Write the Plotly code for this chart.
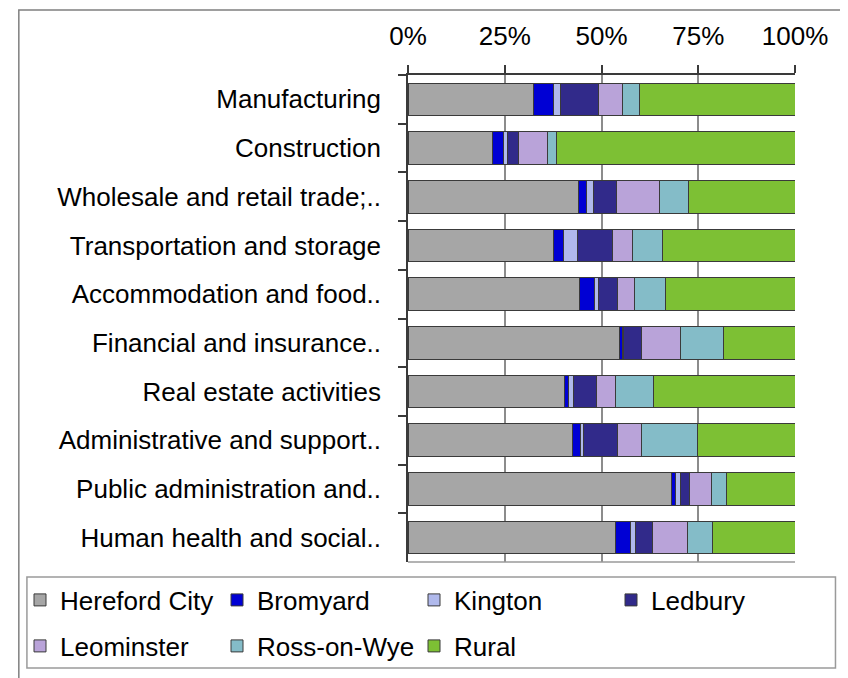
import plotly.graph_objects as go

categories = [
    "Manufacturing",
    "Construction",
    "Wholesale and retail trade;..",
    "Transportation and storage",
    "Accommodation and food..",
    "Financial and insurance..",
    "Real estate activities",
    "Administrative and support..",
    "Public administration and..",
    "Human health and social..",
]

hereford_city = [32.4, 21.9, 44.1, 37.7, 44.4, 54.6, 40.5, 42.6, 68.0, 53.6]
bromyard      = [5.3, 2.8, 2.1, 2.6, 3.9, 0.8, 1.1, 1.9, 1.2, 3.9]
kington       = [1.8, 1.1, 1.7, 3.6, 0.9, 0.2, 1.2, 0.9, 1.2, 1.3]
ledbury       = [9.7, 2.8, 6.1, 8.9, 4.9, 4.8, 5.8, 8.7, 2.4, 4.3]
leominster    = [6.1, 7.4, 11.0, 5.2, 4.4, 10.0, 5.0, 6.2, 5.5, 9.0]
ross_on_wye   = [4.4, 2.4, 7.6, 7.7, 8.0, 11.2, 9.8, 14.4, 3.9, 6.5]
rural         = [40.3, 61.6, 27.4, 34.3, 33.5, 18.4, 36.6, 25.3, 17.8, 21.4]

series_names = ["Hereford City", "Bromyard", "Kington", "Ledbury",
                "Leominster", "Ross-on-Wye", "Rural"]
series_values = [hereford_city, bromyard, kington, ledbury,
                 leominster, ross_on_wye, rural]
series_colors = ["#A6A6A6", "#0000D4", "#B0B9EC", "#312A8A",
                 "#B9A3D9", "#84BCC8", "#7DC034"]
series_legend = ["legend", "legend", "legend", "legend",
                 "legend2", "legend2", "legend2"]

x_ticks = [0, 25, 50, 75, 100]
x_ticktext = ["0%", "25%", "50%", "75%", "100%"]

FONT = "Liberation Sans, Arial, sans-serif"
FS = 26

fig = go.Figure()
for name, vals, col, lg in zip(series_names, series_values, series_colors, series_legend):
    fig.add_trace(go.Bar(
        name=name, x=vals, y=categories, orientation="h",
        marker=dict(color=col, line=dict(color="#3A3A3A", width=1)),
        legend=lg,
    ))

# The page body has an 8px margin, so screen px = figure px + 8.
OFF = 8
W, H = 848, 678
# plot area in screen pixels
SL, SR, ST, SB = 403, 795, 75, 562
L, R, T, B = SL - OFF, SR - OFF, ST - OFF, SB - OFF

def px(x):  # screen x -> paper x
    return (x - SL) / (SR - SL)
def py(y):  # screen y -> paper y
    return (SB - y) / (SB - ST)

legend_common = dict(
    orientation="h", xanchor="left", yanchor="middle",
    traceorder="normal",
    entrywidth=152, entrywidthmode="pixels",
    font=dict(family=FONT, size=FS), bgcolor="rgba(0,0,0,0)",
    borderwidth=0,
)

fig.update_layout(
    width=W, height=H,
    margin=dict(l=L, r=W - R, t=T, b=H - B, pad=0),
    paper_bgcolor="white", plot_bgcolor="white",
    barmode="stack", bargap=0.33,
    font=dict(family=FONT, size=FS, color="#000000"),
    showlegend=True,
    legend=dict(x=px(10), y=py(600), **legend_common),
    legend2=dict(x=px(10), y=py(646), **legend_common),
    xaxis=dict(
        side="top", range=[0, 100], tickvals=x_ticks, ticktext=x_ticktext,
        showgrid=True, gridcolor="#8C8C8C", gridwidth=1.5,
        showline=True, linecolor="#3A3A3A", linewidth=1.5,
        ticks="outside", ticklen=8, tickcolor="#3A3A3A", tickwidth=1.5,
        zeroline=False, automargin=False, fixedrange=True,
        tickfont=dict(family=FONT, size=FS),
        ticklabelstandoff=10,
    ),
    yaxis=dict(
        type="category", autorange="reversed",
        showline=True, linecolor="#3A3A3A", linewidth=1.5,
        ticks="outside", tickson="boundaries", ticklen=8,
        tickcolor="#3A3A3A", tickwidth=1.5,
        showgrid=False, zeroline=False, automargin=False,
        tickfont=dict(family=FONT, size=FS),
        ticklabelstandoff=20,
    ),
    shapes=[
        # outer chart border
        dict(type="rect", xref="paper", yref="paper",
             x0=px(8.8), x1=px(842.5), y0=py(720), y1=py(10),
             line=dict(color="#7F7F7F", width=1.5), layer="below"),
        # legend box
        dict(type="rect", xref="paper", yref="paper",
             x0=px(17), x1=px(836), y0=py(668), y1=py(577),
             line=dict(color="#9A9A9A", width=1.5), layer="below"),
        # plot area bottom line
        dict(type="line", xref="paper", yref="paper",
             x0=0, x1=1, y0=0, y1=0,
             line=dict(color="#9A9A9A", width=1.5)),
    ],
)

fig.write_html("out.html")
